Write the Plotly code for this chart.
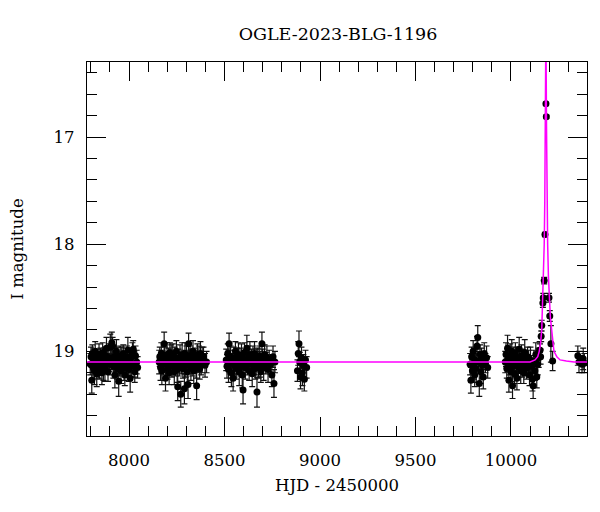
import plotly.graph_objects as go

# ---------------- data ----------------
s1_hjd = [7797, 7801, 7805, 7808, 7812, 7816, 7819, 7823, 7827, 7831, 7835, 7839, 7843, 7846, 7850, 7854, 7858, 7862, 7866, 7870,
          7874, 7878, 7882, 7886, 7890, 7894, 7898, 7902, 7906, 7910, 7914, 7918, 7922, 7926, 7930, 7934, 7938, 7942, 7946, 7950,
          7954, 7958, 7962, 7966, 7970, 7974, 7978, 7982, 7986, 7990, 7994, 7998, 8002, 8006, 8010, 8014, 8018, 8022, 8026, 8030,
          8034, 8040, 8045]
s1_mag = [19.12, 19.05, 19.27, 19.02, 19.15, 19.08, 19.18, 19.00, 19.11, 19.21, 19.06, 19.14, 19.03, 19.17, 19.09, 19.12, 19.20, 19.01, 19.13, 19.07,
          19.16, 19.04, 18.97, 19.10, 19.19, 19.06, 19.12, 18.96, 19.08, 18.92, 18.95, 19.14, 19.05, 19.22, 19.10, 19.00, 19.16, 19.09, 19.28, 19.13,
          19.04, 19.18, 19.07, 19.11, 19.02, 19.15, 19.22, 19.08, 19.12, 19.05, 18.99, 19.17, 19.10, 19.25, 19.06, 19.14, 19.03, 18.98, 19.12, 19.19,
          19.04, 19.10, 19.15]
s1_err = [0.10, 0.09, 0.12, 0.08, 0.11, 0.10, 0.13, 0.09, 0.10, 0.12, 0.08, 0.11, 0.10, 0.09, 0.12, 0.10, 0.11, 0.09, 0.14, 0.10,
          0.12, 0.08, 0.10, 0.11, 0.09, 0.13, 0.10, 0.12, 0.09, 0.10, 0.08, 0.11, 0.10, 0.12, 0.09, 0.11, 0.10, 0.13, 0.14, 0.10,
          0.09, 0.12, 0.11, 0.10, 0.08, 0.12, 0.10, 0.11, 0.09, 0.10, 0.12, 0.11, 0.10, 0.13, 0.09, 0.10, 0.11, 0.08, 0.12, 0.10,
          0.09, 0.11, 0.10]

s2_hjd = [8158, 8161, 8165, 8169, 8172, 8176, 8180, 8184, 8187, 8191, 8195, 8199, 8202, 8206, 8210, 8214, 8218, 8221, 8225, 8229,
          8233, 8237, 8240, 8244, 8248, 8252, 8255, 8259, 8263, 8267, 8271, 8274, 8278, 8282, 8286, 8290, 8293, 8297, 8301, 8305,
          8309, 8312, 8316, 8320, 8324, 8328, 8331, 8335, 8339, 8343, 8347, 8351, 8354, 8358, 8362, 8366, 8370, 8374, 8378, 8383,
          8390, 8398, 8406]
s2_mag = [19.10, 19.05, 19.15, 19.02, 19.18, 19.08, 19.12, 18.93, 19.06, 19.25, 19.11, 19.03, 19.16, 19.09, 19.20, 19.01, 19.13, 19.07, 19.14, 19.04,
          19.10, 19.19, 19.06, 19.12, 19.00, 19.17, 19.33, 19.08, 19.14, 19.05, 19.40, 19.11, 19.03, 19.16, 19.09, 19.35, 19.02, 19.13, 19.07, 19.19,
          19.31, 18.93, 19.10, 19.04, 19.15, 19.08, 19.12, 19.00, 19.18, 19.06, 19.09, 19.14, 19.32, 19.03, 19.11, 19.07, 19.16, 19.02, 19.12, 19.08,
          19.05, 19.13, 19.10]
s2_err = [0.11, 0.09, 0.12, 0.10, 0.13, 0.09, 0.10, 0.11, 0.10, 0.12, 0.09, 0.11, 0.10, 0.12, 0.11, 0.09, 0.10, 0.13, 0.10, 0.11,
          0.09, 0.12, 0.10, 0.11, 0.10, 0.12, 0.13, 0.10, 0.09, 0.11, 0.12, 0.10, 0.11, 0.09, 0.10, 0.14, 0.10, 0.11, 0.12, 0.10,
          0.13, 0.10, 0.11, 0.09, 0.12, 0.10, 0.11, 0.10, 0.12, 0.09, 0.10, 0.11, 0.13, 0.10, 0.09, 0.12, 0.10, 0.11, 0.10, 0.12,
          0.09, 0.11, 0.10]

s3_hjd = [8509, 8513, 8517, 8521, 8524, 8528, 8532, 8536, 8540, 8545, 8549, 8553, 8557, 8561, 8565, 8569, 8573, 8577, 8581, 8585,
          8589, 8593, 8597, 8601, 8605, 8609, 8613, 8617, 8621, 8625, 8629, 8633, 8637, 8641, 8645, 8649, 8653, 8657, 8661, 8666,
          8670, 8674, 8678, 8682, 8686, 8690, 8696, 8700, 8705, 8710, 8716, 8722, 8728, 8734, 8741, 8748, 8754, 8759, 8764]
s3_mag = [19.08, 19.14, 19.02, 19.17, 18.93, 19.10, 19.05, 19.20, 19.11, 19.25, 19.06, 19.13, 19.00, 19.16, 19.09, 19.12, 19.03, 19.19, 19.07, 19.14,
          19.04, 19.22, 19.36, 19.10, 19.01, 19.15, 19.08, 18.97, 19.12, 19.06, 19.18, 19.03, 19.11, 19.09, 19.21, 19.05, 19.13, 19.02, 19.16, 19.10,
          19.38, 19.07, 19.14, 19.04, 19.12, 19.19, 18.93, 19.08, 19.15, 19.03, 19.11, 19.06, 19.17, 19.09, 19.12, 19.22, 19.05, 19.30, 19.10]
s3_err = [0.10, 0.11, 0.09, 0.12, 0.10, 0.11, 0.10, 0.13, 0.09, 0.12, 0.10, 0.11, 0.09, 0.10, 0.12, 0.10, 0.11, 0.13, 0.10, 0.09,
          0.11, 0.12, 0.13, 0.10, 0.09, 0.11, 0.10, 0.12, 0.10, 0.11, 0.09, 0.12, 0.10, 0.11, 0.12, 0.10, 0.09, 0.11, 0.10, 0.12,
          0.14, 0.10, 0.11, 0.09, 0.12, 0.10, 0.11, 0.10, 0.12, 0.09, 0.10, 0.11, 0.12, 0.10, 0.09, 0.11, 0.10, 0.13, 0.10]

s4_hjd = [8882, 8886, 8890, 8894, 8898, 8903, 8908, 8913, 8918, 8924, 8930]
s4_mag = [19.18, 19.02, 18.93, 19.10, 19.24, 19.06, 19.20, 19.13, 19.26, 19.08, 19.15]
s4_err = [0.10, 0.11, 0.12, 0.09, 0.11, 0.10, 0.12, 0.10, 0.11, 0.09, 0.10]

s5_hjd = [9786, 9790, 9794, 9798, 9802, 9806, 9810, 9814, 9818, 9822, 9826, 9830, 9834, 9838, 9842, 9846, 9850, 9855, 9860, 9866, 9872, 9878]
s5_mag = [19.12, 19.27, 19.05, 19.18, 19.00, 19.14, 19.22, 19.08, 19.16, 18.95, 18.87, 19.10, 19.30, 19.03, 19.19, 19.07, 19.13, 19.24, 19.02, 19.11, 19.06, 19.15]
s5_err = [0.10, 0.12, 0.09, 0.11, 0.10, 0.12, 0.11, 0.10, 0.13, 0.09, 0.11, 0.10, 0.12, 0.09, 0.11, 0.10, 0.12, 0.11, 0.10, 0.09, 0.11, 0.10]

s6_hjd = [9970, 9974, 9978, 9982, 9985, 9989, 9992, 9996, 10000, 10004, 10008, 10011, 10015, 10019, 10023, 10027, 10031, 10035, 10039, 10043,
          10047, 10051, 10055, 10059, 10063, 10067, 10072, 10077, 10082, 10087, 10092, 10097, 10102, 10107, 10112, 10116, 10120, 10125, 10130, 10135,
          10140, 10145, 10150]
s6_mag = [19.10, 19.03, 19.16, 18.97, 19.08, 19.27, 19.12, 19.05, 19.19, 19.00, 19.32, 19.14, 19.07, 19.21, 19.02, 19.11, 19.25, 19.06, 19.15, 18.98,
          19.09, 19.18, 19.04, 19.13, 19.07, 19.20, 19.01, 19.12, 19.16, 19.05, 19.10, 19.22, 19.08, 19.14, 19.26, 19.32, 19.09, 19.18, 19.03, 19.24,
          19.12, 19.06, 18.99]
s6_err = [0.10, 0.11, 0.09, 0.12, 0.10, 0.11, 0.10, 0.12, 0.09, 0.11, 0.12, 0.10, 0.11, 0.09, 0.10, 0.12, 0.11, 0.10, 0.09, 0.11,
          0.10, 0.12, 0.10, 0.11, 0.09, 0.10, 0.12, 0.11, 0.10, 0.09, 0.11, 0.10, 0.12, 0.10, 0.11, 0.12, 0.10, 0.09, 0.11, 0.10,
          0.10, 0.09, 0.08]

peak_hjd = [10152, 10155, 10158, 10161, 10167, 10169, 10174, 10178, 10183, 10185, 10199, 10203, 10209, 10218]
peak_mag = [18.99, 19.05, 18.86, 18.76, 18.55, 18.50, 18.34, 17.91, 16.69, 16.81, 18.50, 18.67, 18.93, 19.09]
peak_err = [0.06, 0.07, 0.05, 0.05, 0.04, 0.04, 0.03, 0.02, 0.015, 0.015, 0.04, 0.05, 0.17, 0.09]

s8_hjd = [10350, 10356, 10372, 10378, 10384]
s8_mag = [19.04, 19.10, 19.12, 19.07, 19.11]
s8_err = [0.09, 0.10, 0.08, 0.10, 0.09]

model_hjd = [7700, 10100, 10126, 10140, 10148, 10155, 10161, 10166, 10170, 10174, 10177, 10180, 10182, 10183, 10184, 10186, 10189, 10192,
             10196, 10200, 10206, 10213, 10220, 10225, 10240, 10257, 10290, 10330, 10450]
model_mag = [19.10, 19.10, 19.08, 19.05, 19.00, 18.92, 18.80, 18.50, 18.28, 18.00, 17.60, 17.00, 16.40, 15.90, 16.30, 16.90, 17.60, 18.00,
             18.30, 18.50, 18.68, 18.80, 18.93, 19.00, 19.05, 19.08, 19.09, 19.10, 19.10]

title_text = "OGLE-2023-BLG-1196"
x_title = "HJD - 2450000"
y_title = "I magnitude"

# ---------------- figure ----------------
seasons = [(s1_hjd, s1_mag, s1_err), (s2_hjd, s2_mag, s2_err), (s3_hjd, s3_mag, s3_err),
           (s4_hjd, s4_mag, s4_err), (s5_hjd, s5_mag, s5_err), (s6_hjd, s6_mag, s6_err),
           (peak_hjd, peak_mag, peak_err), (s8_hjd, s8_mag, s8_err)]

hjd, mag, err = [], [], []
for h, m, e in seasons:
    for a, b, c in zip(h, m, e):
        hjd.append(a); mag.append(b); err.append(c)

FONT = "DejaVu Serif"
fig = go.Figure()
fig.add_trace(go.Scatter(
    x=hjd, y=mag, mode="markers",
    marker=dict(color="black", size=7),
    error_y=dict(type="data", array=err, color="#111111", thickness=1.2, width=3),
    showlegend=False, hoverinfo="x+y"))
fig.add_trace(go.Scatter(
    x=model_hjd, y=model_mag, mode="lines",
    line=dict(color="#ff00ff", width=1.5),
    showlegend=False))

axis_common = dict(
    showline=True, linecolor="black", linewidth=1.2, mirror="allticks",
    ticks="inside", tickcolor="black", tickwidth=1, ticklen=19,
    showgrid=False, zeroline=False, automargin=False,
    tickfont=dict(family=FONT, size=16.5, color="black"),
)
fig.update_xaxes(
    **axis_common, range=[7780, 10398], tick0=8000, dtick=500, tickformat="d",
    minor=dict(dtick=100, ticks="inside", ticklen=10, tickcolor="black", showgrid=False),
    ticklabelstandoff=9,
    title=dict(text=x_title, font=dict(family=FONT, size=16.5, color="black"), standoff=10))
fig.update_yaxes(
    **axis_common, range=[19.79, 16.30], tick0=17, dtick=1,
    minor=dict(dtick=0.2, ticks="inside", ticklen=10, tickcolor="black", showgrid=False),
    ticklabelstandoff=8,
    title=dict(text=y_title, font=dict(family=FONT, size=16.5, color="black"), standoff=26))

# the page body adds an 8px offset, so the margins are shifted to compensate
fig.update_layout(
    width=600, height=512,
    margin=dict(l=79, r=21, t=54, b=84),
    paper_bgcolor="white", plot_bgcolor="white",
    title=dict(text=title_text, x=330 / 600, xanchor="center", y=1 - 26 / 512, yanchor="middle",
               yref="container", font=dict(family=FONT, size=17.5, color="black")),
    font=dict(family=FONT, color="black"),
)

fig.write_html("out.html")
